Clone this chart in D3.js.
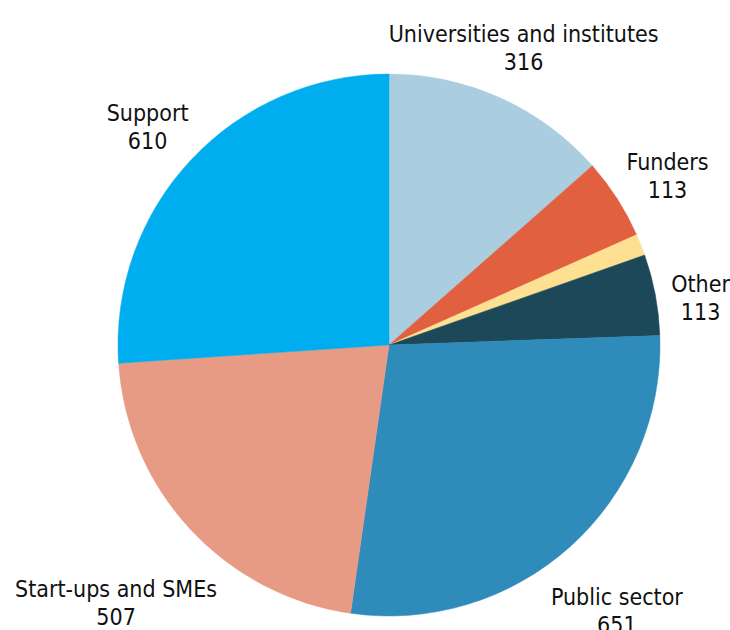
<!DOCTYPE html>
<html lang="en">
<head>
    <meta charset="UTF-8">
    <title>Pie chart</title>
    <style>
        body { margin: 0; background: #fff; }
        .label text {
            font-family: "DejaVu Sans Condensed", "Liberation Sans Narrow", sans-serif;
            font-size: 23px;
            fill: #111;
        }
    </style>
    <script src="https://d3js.org/d3.v7.min.js"></script>
</head>
<body>
    <div id="chart"></div>
    <script>
        // slices in clockwise order from 12 o'clock
        const categories = ["Universities and institutes", "Funders", "", "Other", "Public sector", "Start-ups and SMEs", "Support"];
        const values = [316, 113, 30, 113, 651, 507, 610];
        const colors = ["#abcde0", "#e0603f", "#fde092", "#1c4859", "#2e8bba", "#e89b84", "#00adee"];
        // label placement: distance from centre, then a small [dx, dy] nudge
        const labelRadius = [327, 325, 0, 312, 350, 375, 325];
        const labelNudge = [[0, -1], [5, 5], [0, 0], [5, 9], [-6, 4], [2, 1], [-4, 2]];

        const width = 730, height = 630;
        const cx = 389, cy = 345, R = 271;

        const svg = d3.select("#chart").append("svg")
            .attr("width", width)
            .attr("height", height);

        const g = svg.append("g").attr("transform", `translate(${cx},${cy})`);

        const pie = d3.pie().sort(null).value(d => d);
        const arcs = pie(values);
        const arc = d3.arc().innerRadius(0).outerRadius(R);

        g.selectAll("path.slice")
            .data(arcs)
            .enter().append("path")
            .attr("class", "slice")
            .attr("d", arc)
            .attr("fill", (d, i) => colors[i])
            .attr("stroke", (d, i) => colors[i])
            .attr("stroke-width", 0.5);

        const labels = g.selectAll("g.label")
            .data(arcs.filter((d, i) => categories[i] !== ""))
            .enter().append("g")
            .attr("class", "label")
            .attr("transform", d => {
                const a = (d.startAngle + d.endAngle) / 2;
                const r = labelRadius[d.index];
                const [dx, dy] = labelNudge[d.index];
                return `translate(${Math.sin(a) * r + dx},${-Math.cos(a) * r + dy})`;
            });

        labels.append("text")
            .attr("text-anchor", "middle")
            .attr("y", -4)
            .text(d => categories[d.index]);

        labels.append("text")
            .attr("text-anchor", "middle")
            .attr("y", 24)
            .text(d => d.data);
    </script>
</body>
</html>
